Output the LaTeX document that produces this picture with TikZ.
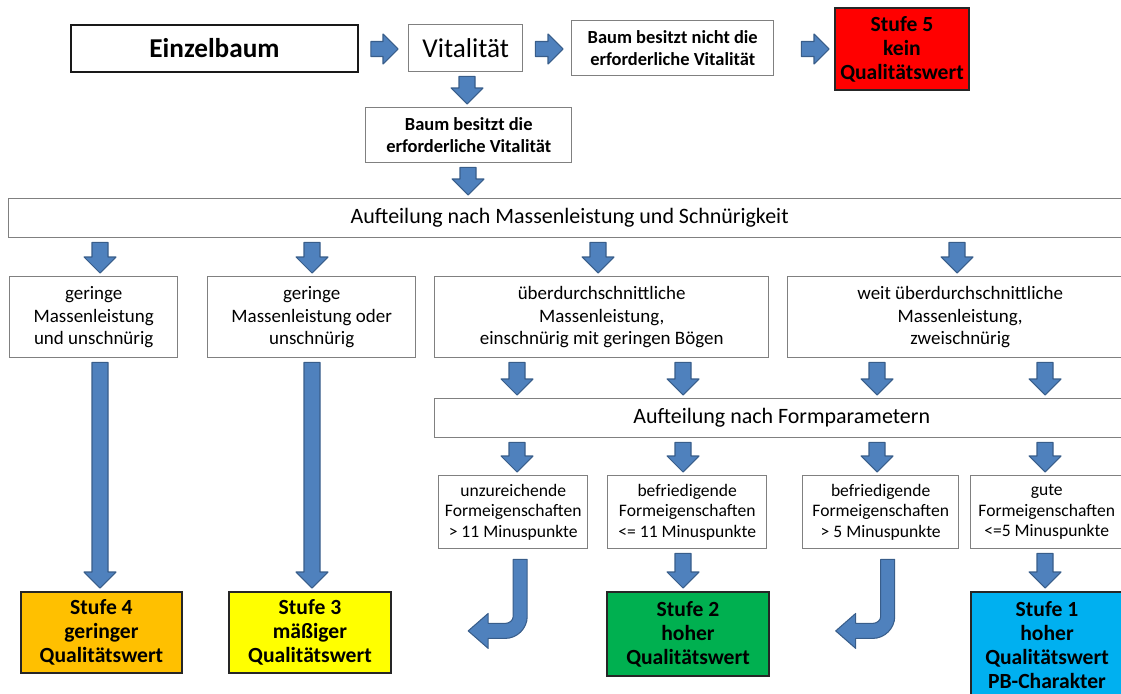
\documentclass[tikz,border=0pt]{standalone}
\usepackage{fontspec}
\setmainfont{Carlito}
\usetikzlibrary{calc}

\newdimen\pu \pu=0.02cm

\definecolor{arrowblue}{HTML}{4F81BD}
\definecolor{arrowline}{HTML}{385D8A}
\definecolor{boxline}{HTML}{808080}
\definecolor{stufeorange}{HTML}{FFC000}
\definecolor{stufeyellow}{HTML}{FFFF00}
\definecolor{stufegreen}{HTML}{00B050}
\definecolor{stufeblue}{HTML}{00B0F0}
\definecolor{stufered}{HTML}{FF0000}

\newcommand{\einzelfont}{\fontsize{15.5}{18}\selectfont\bfseries}
\newcommand{\vitalfont}{\fontsize{15.5}{18}\selectfont}
\newcommand{\notefont}{\fontsize{10.5}{12.5}\selectfont\bfseries}
\newcommand{\headfont}{\fontsize{12.5}{15}\selectfont}
\newcommand{\midfont}{\fontsize{10.8}{12.8}\selectfont}
\newcommand{\formfont}{\fontsize{10}{11.6}\selectfont}
\newcommand{\stufefont}{\fontsize{12.3}{13.6}\selectfont\bfseries}

\tikzset{
  plainbox/.style={below right, draw=boxline, line width=0.8pt, fill=white, align=center, inner sep=1pt},
  stufebox/.style={plainbox, draw=black!85, line width=1.1pt, font=\stufefont},
  blockarrow/.style={fill=arrowblue, draw=arrowline, line width=0.6pt, line join=round}
}

% block arrow down: source, target, x position
\newcommand{\darrow}[3]{%
  \draw[blockarrow] let \p1=(#1.south), \p2=(#2.north) in
    (#3-8,\y1-4*\pu) -- (#3+8,\y1-4*\pu) -- (#3+8,\y2+19*\pu) -- (#3+16,\y2+19*\pu)
    -- (#3,\y2+3*\pu) -- (#3-16,\y2+19*\pu) -- (#3-8,\y2+19*\pu) -- cycle;}

% block arrow right: source, target, y position, gaps
\newcommand{\rarrow}[5]{%
  \draw[blockarrow] let \p1=(#1.east), \p2=(#2.west) in
    (\x1+#4*\pu,#3-7.5) -- (\x2-#5*\pu-15*\pu,#3-7.5) -- (\x2-#5*\pu-15*\pu,#3-15)
    -- (\x2-#5*\pu,#3) -- (\x2-#5*\pu-15*\pu,#3+15) -- (\x2-#5*\pu-15*\pu,#3+7.5)
    -- (\x1+#4*\pu,#3+7.5) -- cycle;}

\begin{document}
\begin{tikzpicture}[x=0.02cm, y=-0.02cm]
\useasboundingbox (0,0) rectangle (1121,693);
\clip (0,0) rectangle (1121,693);

% Top row
\node[plainbox, draw=black!90, line width=1.1pt, font=\einzelfont, minimum width=287\pu, minimum height=47\pu] (einzel) at (70,24) {Einzelbaum};
\node[plainbox, font=\vitalfont, minimum width=114\pu, minimum height=47\pu] (vital) at (408,24) {Vitalität};
\node[plainbox, font=\notefont, minimum width=202\pu, minimum height=55\pu] (nicht) at (571,20) {Baum besitzt nicht die\\erforderliche Vitalität};
\node[stufebox, fill=stufered, minimum width=134\pu, minimum height=82\pu] (stufe5) at (834,7) {Stufe 5\\kein\\Qualitätswert};
\node[plainbox, font=\notefont, minimum width=206\pu, minimum height=55\pu] (besitzt) at (365,107) {Baum besitzt die\\erforderliche Vitalität};

% Aufteilung nach Massenleistung
\node[plainbox, font=\headfont, minimum width=1122\pu, minimum height=39\pu] (massen) at (8,198) {Aufteilung nach Massenleistung und Schnürigkeit};

% Massenleistung boxes
\node[plainbox, font=\midfont, minimum width=168\pu, minimum height=81\pu] (gm1) at (9,276) {geringe\\Massenleistung\\und unschnürig};
\node[plainbox, font=\midfont, minimum width=208\pu, minimum height=81\pu] (gm2) at (207,276) {geringe\\Massenleistung oder\\unschnürig};
\node[plainbox, font=\midfont, minimum width=334\pu, minimum height=81\pu] (ueber) at (434,276) {überdurchschnittliche\\Massenleistung,\\einschnürig mit geringen Bögen};
\node[plainbox, font=\midfont, minimum width=345\pu, minimum height=81\pu] (weit) at (787,276) {weit überdurchschnittliche\\Massenleistung,\\zweischnürig};

% Aufteilung nach Formparametern
\node[plainbox, font=\headfont, minimum width=694\pu, minimum height=39\pu] (form) at (434,398) {Aufteilung nach Formparametern};

% Form boxes
\node[plainbox, font=\formfont, minimum width=149\pu, minimum height=73\pu] (f1) at (438,475) {unzureichende\\Formeigenschaften\\> 11 Minuspunkte};
\node[plainbox, font=\formfont, minimum width=159\pu, minimum height=73\pu] (f2) at (607,475) {befriedigende\\Formeigenschaften\\<= 11 Minuspunkte};
\node[plainbox, font=\formfont, minimum width=156\pu, minimum height=73\pu] (f3) at (802,475) {befriedigende\\Formeigenschaften\\> 5 Minuspunkte};
\node[plainbox, font=\formfont, minimum width=152\pu, minimum height=73\pu] (f4) at (970,475) {gute\\Formeigenschaften\\<=5 Minuspunkte};

% Stufen
\node[stufebox, fill=stufeorange, minimum width=161\pu, minimum height=81\pu] (s4) at (20,591) {Stufe 4\\geringer\\Qualitätswert};
\node[stufebox, fill=stufeyellow, minimum width=162\pu, minimum height=81\pu] (s3) at (228,591) {Stufe 3\\mäßiger\\Qualitätswert};
\node[stufebox, fill=stufegreen, minimum width=162\pu, minimum height=84\pu] (s2) at (606,591) {Stufe 2\\hoher\\Qualitätswert};
\node[stufebox, fill=stufeblue, minimum width=152\pu, minimum height=106\pu] (s1) at (970,591) {Stufe 1\\hoher\\Qualitätswert\\PB-Charakter};

% Arrows top row
\rarrow{einzel}{vital}{49}{12}{10}
\rarrow{vital}{nicht}{49}{12}{8}
\rarrow{nicht}{stufe5}{49}{27}{5}
\darrow{vital}{besitzt}{467}
\darrow{besitzt}{massen}{468}

% Arrows to Massenleistung boxes
\foreach \b/\xpos in {gm1/100, gm2/312, ueber/598, weit/957}
  \darrow{massen}{\b}{\xpos};

% Arrows to Formparameter
\darrow{ueber}{form}{517}
\darrow{ueber}{form}{683}
\darrow{weit}{form}{877}
\darrow{weit}{form}{1045}
\foreach \b/\xpos in {f1/517, f2/683, f3/877, f4/1045}
  \darrow{form}{\b}{\xpos};

% Arrows to Stufen
\darrow{gm1}{s4}{100}
\darrow{gm2}{s3}{312}
\darrow{f2}{s2}{683}
\darrow{f4}{s1}{1045}

% Bent arrows
\foreach \f in {f1, f3}
  \draw[blockarrow, shift={(\f.south)}] (0,10) -- (14,10) -- (14,67) .. controls (14,79) and (4,89) .. (-8,89)
    -- (-25,89) -- (-25,99) -- (-45,81.5) -- (-25,64) -- (-25,74) -- (-8,74) .. controls (-4,74) and (0,71) .. (0,67) -- cycle;

\end{tikzpicture}
\end{document}
